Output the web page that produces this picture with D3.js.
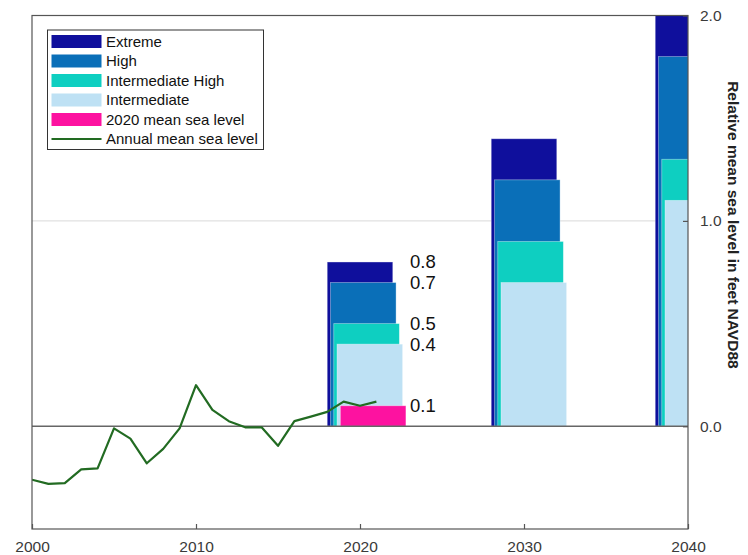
<!DOCTYPE html>
<html>
<head>
<meta charset="utf-8">
<script src="https://cdn.jsdelivr.net/npm/d3@7"></script>
<style>
  html, body { margin: 0; padding: 0; background: #fff; }
  svg { display: block; font-family: "Liberation Sans", Arial, sans-serif; }
</style>
</head>
<body>
<svg id="chart" width="748" height="555"></svg>
<script>
// Annual mean sea level (feet, NAVD88)
const years = [2000, 2001, 2002, 2003, 2004, 2005, 2006, 2007, 2008, 2009, 2010,
               2011, 2012, 2013, 2014, 2015, 2016, 2017, 2018, 2019, 2020, 2021];
const annualMean = [-0.26, -0.28, -0.277, -0.21, -0.205, -0.01, -0.06, -0.18, -0.11, -0.01, 0.20,
                    0.08, 0.025, -0.005, -0.005, -0.095, 0.025, 0.047, 0.07, 0.12, 0.10, 0.12];

// Projection scenarios by decade
const scenarioYears = [2020, 2030, 2040];
const extreme = [0.8, 1.4, 2.0];
const high = [0.7, 1.2, 1.8];
const intermediateHigh = [0.5, 0.9, 1.3];
const intermediate = [0.4, 0.7, 1.1];
const meanYear = [2020];
const mean2020 = [0.1];

// Value labels beside the 2020 stack
const labelValues = [0.8, 0.7, 0.5, 0.4, 0.1];

const xTicks = [2000, 2010, 2020, 2030, 2040];
const yTicks = [0.0, 1.0, 2.0];

const legendNames = ["Extreme", "High", "Intermediate High", "Intermediate",
                     "2020 mean sea level", "Annual mean sea level"];

const colors = {
  extreme: "#0f0f9c",
  high: "#0a6fb8",
  intHigh: "#0ecfc1",
  inter: "#bee1f4",
  mean: "#fd12a0",
  line: "#226b22"
};

const svg = d3.select("#chart");
const pLeft = 32, pRight = 688, pTop = 15.5, pBottom = 529;

const x = d3.scaleLinear().domain([2000, 2040]).range([pLeft, pRight]);
const y = d3.scaleLinear().domain([-0.5, 2.0]).range([pBottom, pTop]);

svg.append("defs").append("clipPath").attr("id", "plotClip")
  .append("rect").attr("x", pLeft).attr("y", pTop)
  .attr("width", pRight - pLeft).attr("height", pBottom - pTop);

const plot = svg.append("g").attr("clip-path", "url(#plotClip)");

// grid line at 1.0
plot.append("line")
  .attr("x1", pLeft).attr("x2", pRight)
  .attr("y1", y(1)).attr("y2", y(1))
  .attr("stroke", "#d9d9d9").attr("stroke-width", 1);

// staggered scenario bars, each four years wide
const barWidth = 4, step = 0.2;
const stacks = [
  { vals: extreme, yrs: scenarioYears, color: colors.extreme, k: 0 },
  { vals: high, yrs: scenarioYears, color: colors.high, k: 1 },
  { vals: intermediateHigh, yrs: scenarioYears, color: colors.intHigh, k: 2 },
  { vals: intermediate, yrs: scenarioYears, color: colors.inter, k: 3 },
  { vals: mean2020, yrs: meanYear, color: colors.mean, k: 4 }
];
stacks.forEach(s => {
  plot.append("g").selectAll("rect")
    .data(s.vals.map((v, i) => ({ v, yr: s.yrs[i] })))
    .join("rect")
    .attr("x", d => x(d.yr - 2 + s.k * step))
    .attr("width", d => x(d.yr - 2 + s.k * step + barWidth) - x(d.yr - 2 + s.k * step))
    .attr("y", d => y(d.v))
    .attr("height", d => y(0) - y(d.v))
    .attr("fill", s.color)
    .attr("stroke", "rgba(255,255,255,0.45)")
    .attr("stroke-width", 0.8);
});

// zero line
plot.append("line")
  .attr("x1", pLeft).attr("x2", pRight)
  .attr("y1", y(0)).attr("y2", y(0))
  .attr("stroke", "#666").attr("stroke-width", 1.4);

// annual mean sea level
plot.append("path")
  .datum(years.map((yr, i) => [yr, annualMean[i]]))
  .attr("fill", "none")
  .attr("stroke", colors.line)
  .attr("stroke-width", 2.2)
  .attr("stroke-linejoin", "round")
  .attr("d", d3.line().x(d => x(d[0])).y(d => y(d[1])));

// value labels
svg.append("g").selectAll("text")
  .data(labelValues)
  .join("text")
  .attr("x", x(2023.05))
  .attr("y", d => y(d))
  .attr("dy", "0.35em")
  .attr("font-size", 18.5)
  .attr("fill", "#111")
  .text(d => d.toFixed(1));

// frame
svg.append("rect")
  .attr("x", pLeft).attr("y", pTop)
  .attr("width", pRight - pLeft).attr("height", pBottom - pTop)
  .attr("fill", "none").attr("stroke", "#555").attr("stroke-width", 1.2);

// bottom axis
const xAxis = svg.append("g").attr("transform", `translate(0,${pBottom})`)
  .call(d3.axisBottom(x).tickValues(xTicks).tickFormat(d3.format("d"))
    .tickSizeInner(-5).tickSizeOuter(0).tickPadding(12));
xAxis.select(".domain").remove();
xAxis.selectAll("line").attr("stroke", "#555").attr("stroke-width", 1.2);
xAxis.selectAll("text").attr("font-size", 15.5).attr("fill", "#3a3a3a")
  .attr("font-family", "Liberation Sans, Arial, sans-serif");

// right axis
const yAxis = svg.append("g").attr("transform", `translate(${pRight},0)`)
  .call(d3.axisRight(y).tickValues(yTicks).tickFormat(d3.format(".1f"))
    .tickSizeInner(-5).tickSizeOuter(0).tickPadding(12));
yAxis.select(".domain").remove();
yAxis.selectAll("line").attr("stroke", "#555").attr("stroke-width", 1.2);
yAxis.selectAll("text").attr("font-size", 15.5).attr("fill", "#3a3a3a")
  .attr("font-family", "Liberation Sans, Arial, sans-serif");

// axis title
svg.append("text")
  .attr("transform", `translate(733,${y(1.0) + 4}) rotate(90)`)
  .attr("text-anchor", "middle")
  .attr("dy", "0.35em")
  .attr("font-size", 15.5)
  .attr("font-weight", "bold")
  .attr("fill", "#222")
  .text("Relative mean sea level in feet NAVD88");

// legend
const legend = svg.append("g");
legend.append("rect")
  .attr("x", 47.5).attr("y", 30).attr("width", 216).attr("height", 119.5)
  .attr("fill", "#fff").attr("stroke", "#333").attr("stroke-width", 1);
const legendColors = [colors.extreme, colors.high, colors.intHigh, colors.inter, colors.mean, colors.line];
const rowY = i => 41.5 + i * 19.5;
legendNames.forEach((name, i) => {
  if (i < 5) {
    legend.append("rect")
      .attr("x", 51.5).attr("y", rowY(i) - 6.5).attr("width", 50).attr("height", 13)
      .attr("fill", legendColors[i]);
  } else {
    legend.append("line")
      .attr("x1", 51.5).attr("x2", 101.5).attr("y1", rowY(i)).attr("y2", rowY(i))
      .attr("stroke", legendColors[i]).attr("stroke-width", 2.2);
  }
  legend.append("text")
    .attr("x", 106).attr("y", rowY(i)).attr("dy", "0.35em")
    .attr("font-size", 15).attr("fill", "#111")
    .text(name);
});
</script>
</body>
</html>
